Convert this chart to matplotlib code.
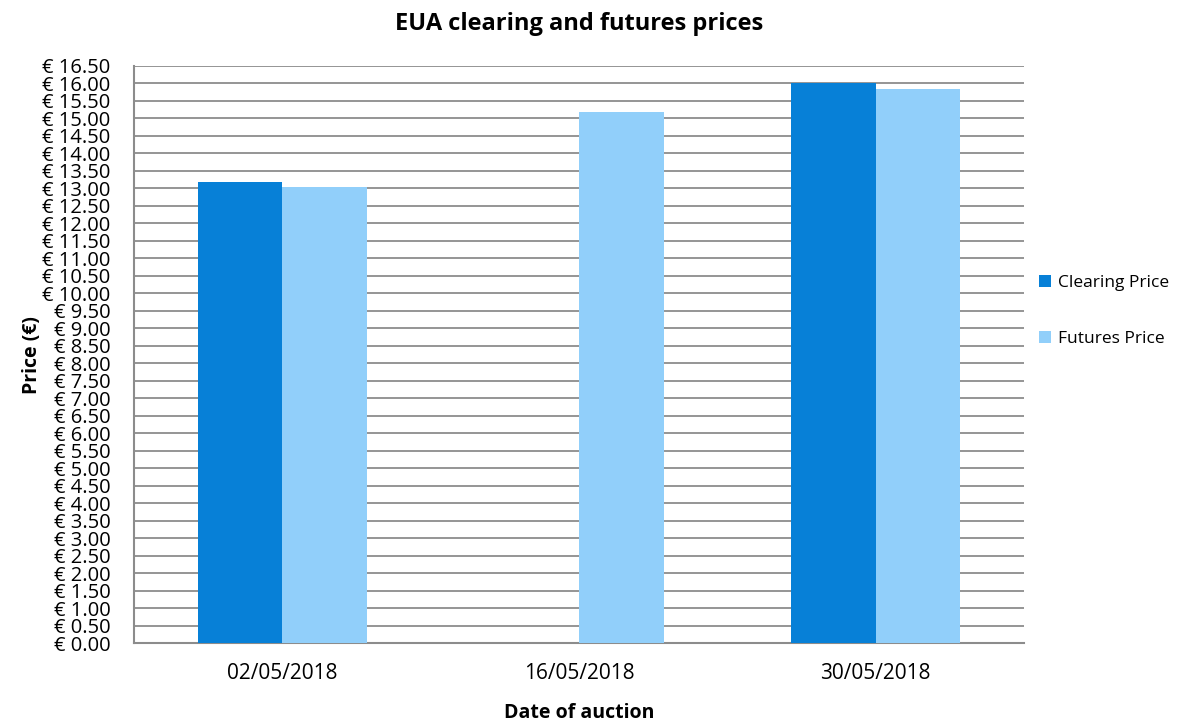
import numpy as np
import matplotlib.pyplot as plt

# Auction dates and prices (EUR)
dates = ["02/05/2018", "16/05/2018", "30/05/2018"]
clearing_price = [13.18, np.nan, 16.02]
futures_price = [13.03, 15.18, 15.83]

plt.rcParams['font.family'] = ['Open Sans', 'DejaVu Sans']

fig = plt.figure(figsize=(11.78, 7.23), dpi=100)
ax = fig.add_axes([0.1138, 0.110, 0.7555, 0.799])

x = np.arange(len(dates))
w = 0.285
ax.bar(x - w / 2, clearing_price, w, color='#0780d7', label='Clearing Price', zorder=3)
ax.bar(x + w / 2, futures_price, w, color='#91cffa', label='Futures Price', zorder=3)

ax.set_xlim(-0.5, 2.5)
ax.set_ylim(0, 16.5)
ticks = np.arange(0, 16.51, 0.5)
ax.set_yticks(ticks)
ax.set_yticklabels([f"€ {t:.2f}" for t in ticks], fontsize=14.5)
ax.set_xticks(x)
ax.set_xticklabels(dates, fontsize=15)
ax.tick_params(axis='y', length=0, pad=17)
ax.tick_params(axis='x', length=0, pad=14)

ax.grid(axis='y', color='#8c8c8c', linewidth=1.3, zorder=0)
for s in ['top', 'right']:
    ax.spines[s].set_visible(False)
for s in ['left', 'bottom']:
    ax.spines[s].set_color('#8c8c8c')
    ax.spines[s].set_linewidth(1.5)

ax.set_title("EUA clearing and futures prices", fontsize=17, fontweight='bold', pad=26)
ax.set_xlabel("Date of auction", fontsize=14, fontweight='bold', labelpad=14)
ax.set_ylabel("Price (€)", fontsize=14, fontweight='bold', labelpad=0)

fig.legend(loc='center left', bbox_to_anchor=(0.869, 0.570), frameon=False,
           fontsize=12.5, handlelength=0.7, handleheight=0.7, handletextpad=0.35,
           labelspacing=2.3)

fig.savefig("out.png", dpi=100)
